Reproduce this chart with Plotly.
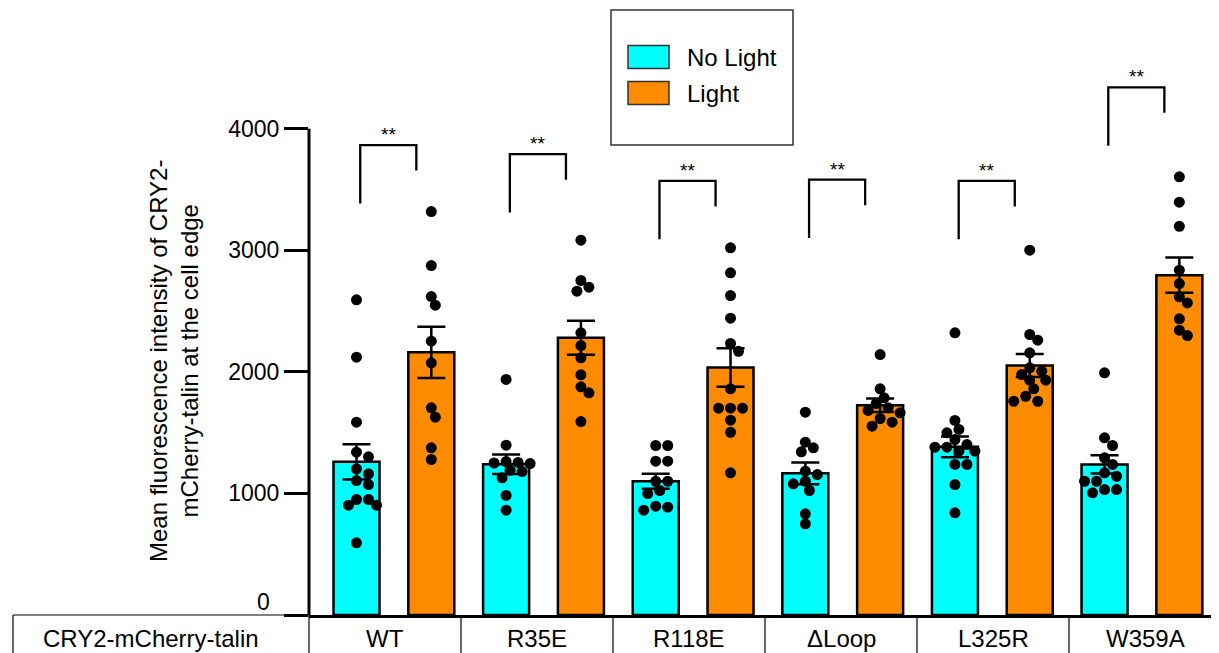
import plotly.graph_objects as go

# ---------------- data ----------------
groups = ["WT", "R35E", "R118E", "\u0394Loop", "L325R", "W359A"]
row_header = "CRY2-mCherry-talin"
series_names = ["No Light", "Light"]

mean_no_light = [1260, 1240, 1100, 1165, 1383, 1238]
sem_no_light = [145, 80, 62, 90, 85, 75]
mean_light = [2160, 2280, 2035, 1725, 2052, 2795]
sem_light = [210, 140, 158, 55, 95, 145]

wt_no_light = [2592, 2120, 1586, 1339, 1301, 1202, 1161, 1106, 1073, 950, 950, 903, 903, 594]
r35e_no_light = [1937, 1397, 1262, 1255, 1250, 1245, 1190, 1180, 1128, 983, 862]
r118e_no_light = [1394, 1394, 1265, 1265, 1100, 1100, 1024, 999, 895, 887, 862]
dloop_no_light = [1668, 1421, 1375, 1342, 1183, 1155, 1100, 1079, 1024, 832, 750]
l325r_no_light = [2321, 1600, 1526, 1498, 1443, 1402, 1380, 1380, 1347, 1347, 1238, 1238, 1073, 840]
w359a_no_light = [1992, 1457, 1394, 1293, 1238, 1169, 1141, 1100, 1100, 1032, 1032, 1005]

wt_light = [3318, 2874, 2619, 2548, 2252, 2074, 1704, 1627, 1375, 1279]
r35e_light = [3083, 2751, 2696, 2663, 2321, 2216, 2115, 1975, 1877, 1827, 1591]
r118e_light = [3020, 2814, 2627, 2441, 2233, 2169, 1860, 1701, 1701, 1701, 1602, 1503, 1169]
dloop_light = [2142, 1860, 1786, 1739, 1704, 1682, 1663, 1616, 1586, 1553]
l325r_light = [3000, 2307, 2260, 2156, 2033, 2005, 1978, 1931, 1931, 1860, 1799, 1758, 1758]
w359a_light = [3604, 3395, 3197, 2836, 2726, 2617, 2567, 2436, 2342, 2298]

points_no_light = [wt_no_light, r35e_no_light, r118e_no_light, dloop_no_light, l325r_no_light, w359a_no_light]
points_light = [wt_light, r35e_light, r118e_light, dloop_light, l325r_light, w359a_light]

bracket_top = [3865, 3790, 3570, 3580, 3570, 4340]
sig_labels = ["**", "**", "**", "**", "**", "**"]
y_ticks = [0, 1000, 2000, 3000, 4000]

# ---------------- layout constants (window pixels) ----------------
WIN_W, WIN_H = 1219, 653
OFF = 8  # page body margin
PL, PR, PT, PB = 309, 1219, 80, 615   # plot area in window pixels
W, H = WIN_W - OFF, WIN_H - OFF
ML, MR, MT, MB = PL - OFF, (OFF + W) - PR, PT - OFF, (OFF + H) - PB
PW, PH = PR - PL, PB - PT
X0, X1 = -0.635, 11.53
Y0, Y1 = 0, 4400
PXX = PW / (X1 - X0)
PXY = PH / (Y1 - Y0)
CYAN = "#00FFFF"
ORANGE = "#FF8C00"
FONT = "Arial, Liberation Sans, sans-serif"


def px_to_paper_x(p):
    return (p - PL) / PW


def px_to_paper_y(p):
    return (PB - p) / PH


def swarm(values, center, d=9.5, step=4.0):
    placed = []
    xs = [0.0] * len(values)
    order = sorted(range(len(values)), key=lambda i: -values[i])
    for i in order:
        yp = values[i] * PXY
        k = 0
        found = None
        while found is None:
            cands = [0.0] if k == 0 else [k * step, -k * step]
            for c in cands:
                if all((c - a) ** 2 + (yp - b) ** 2 >= d * d for a, b in placed):
                    found = c
                    break
            k += 1
        placed.append((found, yp))
        xs[i] = center + found / PXX
    return xs


x_no = [2 * i for i in range(len(groups))]
x_li = [2 * i + 1 for i in range(len(groups))]

fig = go.Figure()
bar_w = 0.615
fig.add_trace(go.Bar(
    x=x_no, y=mean_no_light, width=bar_w, name=series_names[0],
    marker=dict(color=CYAN, line=dict(color="black", width=2.5)),
    error_y=dict(type="data", array=sem_no_light, color="black", thickness=2.5, width=14),
    showlegend=False))
fig.add_trace(go.Bar(
    x=x_li, y=mean_light, width=bar_w, name=series_names[1],
    marker=dict(color=ORANGE, line=dict(color="black", width=2.5)),
    error_y=dict(type="data", array=sem_light, color="black", thickness=2.5, width=14),
    showlegend=False))

dx, dy = [], []
for i in range(len(groups)):
    for vals, c in ((points_no_light[i], x_no[i]), (points_light[i], x_li[i])):
        dx += swarm(vals, c)
        dy += vals
fig.add_trace(go.Scatter(x=dx, y=dy, mode="markers",
                         marker=dict(color="black", size=11, line=dict(width=0)),
                         showlegend=False, cliponaxis=False, hoverinfo="y"))

shapes = []
annotations = []
# significance brackets
for i in range(len(groups)):
    xl = x_no[i] + 0.05
    xr = x_no[i] + 0.8
    top = bracket_top[i]
    bx = [xl, xl, xr, xr]
    by = [top - 480, top, top, top - 210]
    fig.add_trace(go.Scatter(x=bx, y=by, mode="lines", line=dict(color="black", width=2.3),
                             showlegend=False, hoverinfo="skip"))
    annotations.append(dict(x=(xl + xr) / 2, y=top, xref="x", yref="y", text=sig_labels[i],
                            showarrow=False, xanchor="center", yanchor="bottom", yshift=-2,
                            font=dict(size=19, color="black", family=FONT)))

# y axis line (0..4000)
shapes.append(dict(type="line", xref="paper", yref="y", x0=0, x1=0, y0=0, y1=y_ticks[-1],
                   line=dict(color="black", width=3)))

# table below the axis
col_w = 152
tab_left = 13
tab_bottom = px_to_paper_y(WIN_H + 10)
shapes.append(dict(type="line", xref="paper", yref="paper",
                   x0=px_to_paper_x(tab_left), x1=px_to_paper_x(PL - 24), y0=0, y1=0,
                   line=dict(color="black", width=1.2)))
shapes.append(dict(type="line", xref="paper", yref="paper",
                   x0=px_to_paper_x(tab_left), x1=px_to_paper_x(tab_left), y0=0, y1=tab_bottom,
                   line=dict(color="black", width=1.2)))
for k in range(len(groups)):
    xb = PL + k * col_w
    shapes.append(dict(type="line", xref="paper", yref="paper",
                       x0=px_to_paper_x(xb), x1=px_to_paper_x(xb), y0=0, y1=tab_bottom,
                       line=dict(color="black", width=1.2)))
label_y = px_to_paper_y(638)
annotations.append(dict(x=px_to_paper_x(151), y=label_y, xref="paper", yref="paper",
                        text=row_header, showarrow=False, xanchor="center", yanchor="middle",
                        font=dict(size=24, color="black", family=FONT)))
for k, g in enumerate(groups):
    annotations.append(dict(x=px_to_paper_x(PL + (k + 0.5) * col_w), y=label_y,
                            xref="paper", yref="paper", text=g, showarrow=False,
                            xanchor="center", yanchor="middle",
                            font=dict(size=24, color="black", family=FONT)))

# zero tick label sits just above the table line
annotations.append(dict(x=px_to_paper_x(272), y=px_to_paper_y(602), xref="paper", yref="paper",
                        text=str(y_ticks[0]), showarrow=False, xanchor="right", yanchor="middle",
                        font=dict(size=23, color="black", family=FONT)))

# y title
annotations.append(dict(x=px_to_paper_x(174), y=px_to_paper_y(361), xref="paper", yref="paper",
                        text="Mean fluorescence intensity of CRY2-<br>mCherry-talin at the cell edge",
                        textangle=-90, showarrow=False, xanchor="center", yanchor="middle",
                        font=dict(size=24, color="black", family=FONT)))

# custom legend
shapes.append(dict(type="rect", xref="paper", yref="paper",
                   x0=px_to_paper_x(611), x1=px_to_paper_x(793),
                   y0=px_to_paper_y(10), y1=px_to_paper_y(145),
                   line=dict(color="#333333", width=1.5), fillcolor="white"))
for name, col, yc in ((series_names[0], CYAN, 57), (series_names[1], ORANGE, 93)):
    shapes.append(dict(type="rect", xref="paper", yref="paper",
                       x0=px_to_paper_x(628), x1=px_to_paper_x(669),
                       y0=px_to_paper_y(yc - 11.5), y1=px_to_paper_y(yc + 11.5),
                       line=dict(color="#333333", width=1.5), fillcolor=col))
    annotations.append(dict(x=px_to_paper_x(685), y=px_to_paper_y(yc + 1), xref="paper", yref="paper",
                            text=name, showarrow=False, xanchor="left", yanchor="middle",
                            font=dict(size=24, color="black", family=FONT)))

tick_text = [""] + [str(v) for v in y_ticks[1:]]

fig.update_layout(
    width=W, height=H,
    margin=dict(l=ML, r=MR, t=MT, b=MB, pad=0),
    paper_bgcolor="white", plot_bgcolor="white",
    barmode="overlay",
    shapes=shapes, annotations=annotations,
    showlegend=False,
    font=dict(family=FONT, color="black"),
    xaxis=dict(range=[X0, X1], showgrid=False, zeroline=False, showticklabels=False,
               ticks="", showline=True, linecolor="black", linewidth=3),
    yaxis=dict(range=[Y0, Y1], showgrid=False, zeroline=False, showline=False,
               tickvals=y_ticks, ticktext=tick_text,
               ticks="outside", ticklen=24, tickwidth=2.5, tickcolor="black",
               tickfont=dict(size=23, color="black", family=FONT)),
)

fig.write_html("out.html")
